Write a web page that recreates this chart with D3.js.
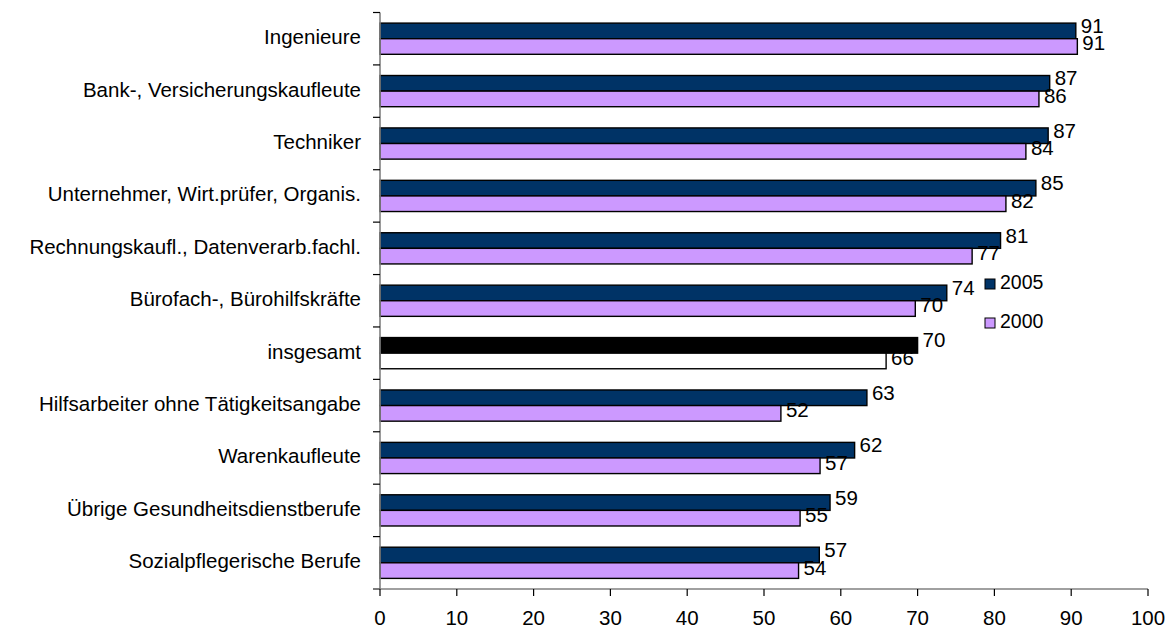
<!DOCTYPE html>
<html><head><meta charset="utf-8">
<script src="https://cdn.jsdelivr.net/npm/d3@7"></script>
<style>body{margin:0;background:#fff}svg{display:block}text{font-family:"Liberation Sans",Arial,sans-serif}</style>
</head><body>
<script>
const categories = ["Ingenieure","Bank-, Versicherungskaufleute","Techniker","Unternehmer, Wirt.prüfer, Organis.","Rechnungskaufl., Datenverarb.fachl.","Bürofach-, Bürohilfskräfte","insgesamt","Hilfsarbeiter ohne Tätigkeitsangabe","Warenkaufleute","Übrige Gesundheitsdienstberufe","Sozialpflegerische Berufe"];
const values2005 = [90.6,87.2,87.0,85.4,80.8,73.8,70.0,63.4,61.8,58.6,57.2];
const values2000 = [90.8,85.8,84.1,81.5,77.1,69.7,65.9,52.2,57.3,54.7,54.5];
const labels2005 = ["91","87","87","85","81","74","70","63","62","59","57"];
const labels2000 = ["91","86","84","82","77","70","66","52","57","55","54"];
const seriesNames = ["2005","2000"];
const xTicks = [0,10,20,30,40,50,60,70,80,90,100];

const W=1174,H=632, FS=20.5;
const svg=d3.select("body").append("svg").attr("width",W).attr("height",H);
const x=d3.scaleLinear().domain([0,100]).range([380,1148]);
const y=d3.scaleBand().domain(categories).range([12.5,589]);
const inner=d3.scaleBand().domain(seriesNames).range([0,y.bandwidth()]).paddingOuter(0.68).paddingInner(0);

const fill2005=(c)=>c==="insgesamt"?"#000000":"#003366";
const fill2000=(c)=>c==="insgesamt"?"#ffffff":"#CC99FF";

const g=svg.append("g");
categories.forEach((c,i)=>{
  const y5=y(c)+inner("2005"), y0=y(c)+inner("2000"), h=inner.bandwidth();
  g.append("rect").attr("x",x(0)).attr("y",y5).attr("width",x(values2005[i])-x(0)).attr("height",h)
    .attr("fill",fill2005(c)).attr("stroke","#000").attr("stroke-width",1.4);
  g.append("rect").attr("x",x(0)).attr("y",y0).attr("width",x(values2000[i])-x(0)).attr("height",h)
    .attr("fill",fill2000(c)).attr("stroke","#000").attr("stroke-width",1.4);
  g.append("text").attr("x",x(values2005[i])+5).attr("y",y5+h/2-3.3).attr("dominant-baseline","middle")
    .attr("font-size",FS).text(labels2005[i]);
  g.append("text").attr("x",x(values2000[i])+5).attr("y",y0+h/2-1.5).attr("dominant-baseline","middle")
    .attr("font-size",FS).text(labels2000[i]);
});

// y axis
const ya=svg.append("g").attr("transform",`translate(${x(0)},0)`);
ya.append("line").attr("x1",0).attr("x2",0).attr("y1",12.5).attr("y2",589).attr("stroke","#808080").attr("stroke-width",1.6);
const bounds=categories.map(c=>y(c)).concat([y.range()[1]]);
bounds.forEach(b=>ya.append("line").attr("x1",-7).attr("x2",0).attr("y1",b).attr("y2",b).attr("stroke","#000").attr("stroke-width",1.2));
categories.forEach(c=>ya.append("text").attr("x",-19).attr("y",y(c)+y.bandwidth()/2).attr("text-anchor","end")
  .attr("dominant-baseline","middle").attr("font-size",FS).text(c));

// x axis
const xa=svg.append("g").attr("transform","translate(0,589)");
xa.append("line").attr("x1",x(0)-7).attr("x2",x(100)).attr("y1",0).attr("y2",0).attr("stroke","#808080").attr("stroke-width",1.6);
xTicks.forEach(t=>{
  xa.append("line").attr("x1",x(t)).attr("x2",x(t)).attr("y1",0).attr("y2",7).attr("stroke","#000").attr("stroke-width",1.2);
  xa.append("text").attr("x",x(t)).attr("y",36).attr("text-anchor","middle").attr("font-size",FS).text(t);
});

// legend
const leg=svg.append("g");
[["2005","#003366",284],["2000","#CC99FF",323]].forEach(([n,col,ly])=>{
  leg.append("rect").attr("x",985).attr("y",ly-5).attr("width",10).attr("height",10).attr("fill",col).attr("stroke","#000");
  leg.append("text").attr("x",1000).attr("y",ly).attr("dominant-baseline","middle").attr("font-size",FS-1).text(n);
});
</script>
</body></html>
